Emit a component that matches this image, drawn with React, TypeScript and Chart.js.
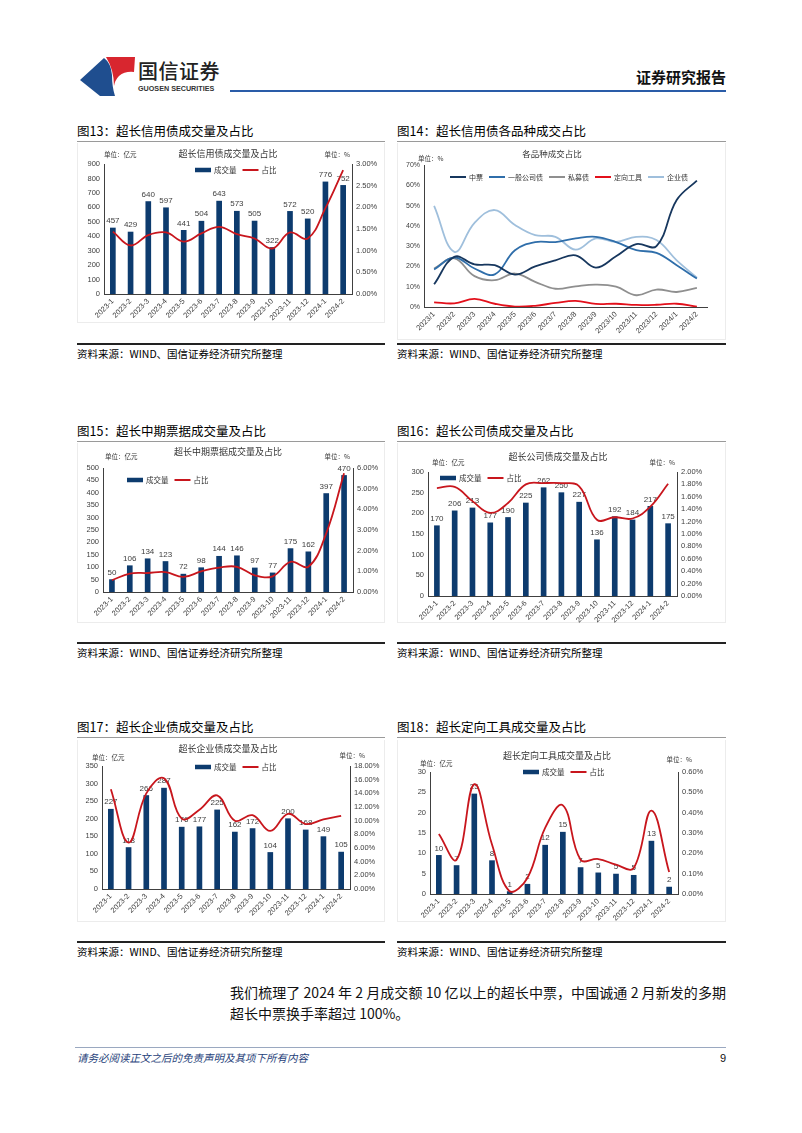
import React, { useEffect, useRef } from "react";
import { Chart, registerables } from "chart.js";

Chart.register(...registerables);

// ---------- data ----------
const monthsDash = ["2023-1", "2023-2", "2023-3", "2023-4", "2023-5", "2023-6", "2023-7", "2023-8", "2023-9", "2023-10", "2023-11", "2023-12", "2024-1", "2024-2"];
const monthsSlash = ["2023/1", "2023/2", "2023/3", "2023/4", "2023/5", "2023/6", "2023/7", "2023/8", "2023/9", "2023/10", "2023/11", "2023/12", "2024/1", "2024/2"];

// 图13 超长信用债
const creditVolume = [457, 429, 640, 597, 441, 504, 643, 573, 505, 322, 572, 520, 776, 752];
const creditShare = [1.44, 1.12, 1.36, 1.42, 1.21, 1.4, 1.55, 1.38, 1.28, 1.05, 1.42, 1.28, 1.98, 2.86];

// 图14 各品种成交占比 (%)
const mtnPct = [11.2, 24.7, 21.0, 20.6, 16.0, 20.0, 23.0, 25.5, 19.4, 25.0, 31.0, 30.0, 52.7, 62.3];
const corpPct = [18.5, 24.4, 19.0, 16.1, 28.0, 32.0, 32.0, 33.8, 34.6, 32.0, 28.0, 26.7, 20.6, 14.0];
const ppnPct = [19.0, 24.0, 15.2, 13.2, 16.5, 12.4, 9.0, 10.2, 11.0, 10.0, 5.8, 8.6, 7.4, 9.4];
const directPct = [2.3, 1.8, 4.0, 1.6, 0.2, 0.6, 2.0, 3.0, 1.5, 1.6, 1.0, 1.1, 1.6, 0.2];
const entPct = [49.8, 27.2, 41.5, 47.8, 40.4, 35.4, 34.6, 28.3, 33.8, 32.1, 34.6, 33.0, 23.0, 14.5];

// 图15 超长中期票据
const mtnVolume = [50, 106, 134, 123, 72, 98, 144, 146, 97, 77, 175, 162, 397, 470];
const mtnShare = [0.57, 0.89, 0.92, 0.96, 0.73, 1.0, 1.18, 1.22, 0.81, 0.76, 1.46, 1.22, 2.84, 5.75];

// 图16 超长公司债
const corpVolume = [170, 206, 213, 177, 190, 225, 262, 250, 227, 136, 192, 184, 217, 175];
const corpShare = [1.74, 1.76, 1.53, 1.34, 1.5, 1.8, 1.82, 1.82, 1.77, 1.23, 1.27, 1.25, 1.44, 1.81];

// 图17 超长企业债
const entVolume = [227, 118, 266, 287, 176, 177, 225, 162, 172, 104, 200, 168, 149, 105];
const entShare = [14.6, 6.8, 14.0, 16.2, 10.3, 11.6, 13.7, 10.0, 10.8, 8.5, 11.0, 9.5, 10.2, 10.7];

// 图18 超长定向工具
const directVolume = [9.5, 7.0, 24.6, 8.2, 0.6, 2.4, 12.0, 15.2, 6.5, 5.2, 4.9, 4.6, 13.0, 1.7];
const directShare = [0.295, 0.169, 0.54, 0.243, 0.013, 0.079, 0.325, 0.436, 0.169, 0.172, 0.144, 0.128, 0.41, 0.108];

// ---------- styles ----------
const NAVY = "#0d3b6e";
const RED = "#c8161d";
const AXIS = "#404040";
const TICK = "#404040";
const CJK = "'Noto Sans CJK SC', 'Noto Sans', sans-serif";
const NUM = "'Liberation Sans', Arial, sans-serif";

type Decor = {
  x: number; y: number;
  title: string; titleX: number; titleY: number; titleSize: number;
  unitL: string; unitLX: number; unitLY: number;
  unitR?: string; unitRX?: number; unitRY?: number;
  legendX: number; legendY: number; legendGap: number; legendSize: number;
  barLabels: boolean;
};

function makeDecor(o: Decor) {
  return {
    id: "decor",
    afterDatasetDraw(chart: any, args: any) {
      if (!o.barLabels || args.index !== 0) return;
      const ctx = chart.ctx;
      const meta = chart.getDatasetMeta(0);
      ctx.save();
      ctx.font = `8px ${NUM}`;
      ctx.fillStyle = "#404040";
      ctx.textAlign = "center";
      ctx.textBaseline = "bottom";
      meta.data.forEach((el: any, i: number) => {
        const v = chart.data.datasets[0].data[i] as number;
        ctx.fillText(String(Math.round(v)), el.x, el.y - 3);
      });
      ctx.restore();
    },
    afterDraw(chart: any) {
      const ctx = chart.ctx;
      ctx.save();
      ctx.textBaseline = "middle";
      ctx.fillStyle = "#333";
      ctx.font = `${o.titleSize}px ${CJK}`;
      ctx.textAlign = "center";
      ctx.fillText(o.title, o.titleX - o.x, o.titleY - o.y);
      ctx.font = `6.5px ${CJK}`;
      ctx.textAlign = "left";
      ctx.fillText(o.unitL, o.unitLX - o.x, o.unitLY - o.y);
      if (o.unitR) {
        ctx.textAlign = "right";
        ctx.fillText(o.unitR, (o.unitRX as number) - o.x, (o.unitRY as number) - o.y);
      }
      // legend
      let cx = o.legendX - o.x;
      const cy = o.legendY - o.y;
      ctx.font = `${o.legendSize}px ${CJK}`;
      ctx.textAlign = "left";
      chart.data.datasets.forEach((ds: any) => {
        const isBar = (ds.type || chart.config.type) === "bar";
        if (isBar) {
          ctx.fillStyle = ds.backgroundColor;
          ctx.fillRect(cx, cy - 2.25, 16, 4.5);
        } else {
          ctx.strokeStyle = ds.borderColor;
          ctx.lineWidth = 2;
          ctx.beginPath();
          ctx.moveTo(cx, cy);
          ctx.lineTo(cx + 16, cy);
          ctx.stroke();
        }
        cx += 19;
        ctx.fillStyle = "#333";
        ctx.fillText(ds.label, cx, cy);
        cx += ctx.measureText(ds.label).width + o.legendGap;
      });
      ctx.restore();
    },
  };
}

type Box = { x: number; y: number; w: number; h: number; L: number; R: number; T: number; B: number; rw: number };

function axisCommon() {
  return {
    grid: { display: false, drawTicks: false },
    border: { display: true, color: AXIS, width: 1 },
  };
}

function xAxis(labelsSize: number, xH: number) {
  return {
    ...axisCommon(),
    ticks: { maxRotation: 45, minRotation: 45, autoSkip: false, font: { size: labelsSize, family: NUM }, color: TICK, padding: 3 },
    afterFit: (s: any) => { s.height = xH; },
  };
}

function comboConfig(
  b: Box, labels: string[], bars: number[], share: number[],
  yMax: number, yStep: number, y2Max: number, y2Step: number, decor: Decor
) {
  const padRight = b.x + b.w - b.R - b.rw;
  return {
    type: "bar",
    data: {
      labels,
      datasets: [
        { type: "bar", label: "成交量", data: bars, backgroundColor: NAVY, barThickness: 5, yAxisID: "y", order: 2 },
        { type: "line", label: "占比", data: share, borderColor: RED, backgroundColor: RED, borderWidth: 1.8, pointRadius: 0, tension: 0.4, yAxisID: "y1", order: 1 },
      ],
    },
    options: {
      animation: false,
      responsive: true,
      maintainAspectRatio: false,
      layout: { padding: { top: b.T - b.y, left: 0, right: padRight, bottom: 0 } },
      plugins: { legend: { display: false }, title: { display: false }, tooltip: { enabled: false } },
      scales: {
        x: xAxis(7.5, b.y + b.h - b.B),
        y: {
          ...axisCommon(), position: "left", min: 0, max: yMax,
          ticks: { stepSize: yStep, font: { size: 7.5, family: NUM }, color: TICK, padding: 4 },
          afterFit: (s: any) => { s.width = b.L - b.x; },
        },
        y1: {
          ...axisCommon(), position: "right", min: 0, max: y2Max,
          ticks: { stepSize: y2Step, font: { size: 7.5, family: NUM }, color: TICK, padding: 4, callback: (v: any) => Number(v).toFixed(2) + "%" },
          afterFit: (s: any) => { s.width = b.rw; },
        },
      },
    },
    plugins: [makeDecor(decor)],
  };
}

function ChartBox({ b, make }: { b: Box; make: () => any }) {
  const ref = useRef<HTMLCanvasElement>(null);
  useEffect(() => {
    const chart = new Chart(ref.current as HTMLCanvasElement, make());
    return () => chart.destroy();
  }, []);
  return (
    <>
      <div style={{ position: "absolute", left: b.x, top: b.y, width: b.w - 2, height: b.h - 1, border: "1px solid #ececec", borderTop: "none" }} />
      <div style={{ position: "absolute", left: b.x, top: b.y, width: b.w, height: b.h }}>
        <canvas ref={ref} />
      </div>
    </>
  );
}

// chart boxes (page coordinates)
const B13: Box = { x: 77, y: 143, w: 308, h: 180, L: 104, R: 352, T: 164, B: 294, rw: 30 };
const B14: Box = { x: 397, y: 143, w: 329, h: 197, L: 424, R: 707, T: 165, B: 307, rw: 0 };
const B15: Box = { x: 77, y: 443, w: 308, h: 180, L: 103, R: 353, T: 468, B: 592, rw: 30 };
const B16: Box = { x: 397, y: 443, w: 329, h: 180, L: 428, R: 677, T: 472, B: 596, rw: 30 };
const B17: Box = { x: 77, y: 740, w: 308, h: 182, L: 102, R: 350, T: 766, B: 889, rw: 33 };
const B18: Box = { x: 397, y: 740, w: 329, h: 182, L: 430, R: 678, T: 772, B: 894, rw: 30 };

function make13() {
  return comboConfig(B13, monthsDash, creditVolume, creditShare, 900, 100, 3, 0.5, {
    x: B13.x, y: B13.y, title: "超长信用债成交量及占比", titleX: 228, titleY: 154, titleSize: 9,
    unitL: "单位：亿元", unitLX: 104, unitLY: 155, unitR: "单位：%", unitRX: 350, unitRY: 155,
    legendX: 195, legendY: 170, legendGap: 6, legendSize: 7.5, barLabels: true,
  });
}
function make15() {
  return comboConfig(B15, monthsDash, mtnVolume, mtnShare, 500, 50, 6, 1, {
    x: B15.x, y: B15.y, title: "超长中期票据成交量及占比", titleX: 228, titleY: 452, titleSize: 9,
    unitL: "单位：亿元", unitLX: 105, unitLY: 457, unitR: "单位：%", unitRX: 350, unitRY: 457,
    legendX: 127, legendY: 480, legendGap: 6, legendSize: 7.5, barLabels: true,
  });
}
function make16() {
  return comboConfig(B16, monthsDash, corpVolume, corpShare, 300, 50, 2, 0.2, {
    x: B16.x, y: B16.y, title: "超长公司债成交量及占比", titleX: 558, titleY: 457, titleSize: 9,
    unitL: "单位：亿元", unitLX: 432, unitLY: 463, unitR: "单位：%", unitRX: 675, unitRY: 463,
    legendX: 440, legendY: 478, legendGap: 6, legendSize: 7.5, barLabels: true,
  });
}
function make17() {
  return comboConfig(B17, monthsDash, entVolume, entShare, 350, 50, 18, 2, {
    x: B17.x, y: B17.y, title: "超长企业债成交量及占比", titleX: 228, titleY: 749, titleSize: 9,
    unitL: "单位：亿元", unitLX: 92, unitLY: 758, unitR: "单位：%", unitRX: 365, unitRY: 756,
    legendX: 195, legendY: 767, legendGap: 6, legendSize: 7.5, barLabels: true,
  });
}
function make18() {
  return comboConfig(B18, monthsDash, directVolume, directShare, 30, 5, 0.6, 0.1, {
    x: B18.x, y: B18.y, title: "超长定向工具成交量及占比", titleX: 557, titleY: 756, titleSize: 9,
    unitL: "单位：亿元", unitLX: 420, unitLY: 764, unitR: "单位：%", unitRX: 692, unitRY: 760,
    legendX: 523, legendY: 772, legendGap: 6, legendSize: 7.5, barLabels: true,
  });
}
function make14() {
  const b = B14;
  const line = (label: string, data: number[], color: string) => ({
    type: "line", label, data, borderColor: color, backgroundColor: color, borderWidth: 1.8, pointRadius: 0, tension: 0.4,
  });
  return {
    type: "line",
    data: {
      labels: monthsSlash,
      datasets: [
        line("中票", mtnPct, "#17375e"),
        line("一般公司债", corpPct, "#2f6eaa"),
        line("私募债", ppnPct, "#8f8f8f"),
        line("定向工具", directPct, "#e3101b"),
        line("企业债", entPct, "#9fbfdc"),
      ],
    },
    options: {
      animation: false,
      responsive: true,
      maintainAspectRatio: false,
      layout: { padding: { top: b.T - b.y, left: 0, right: b.x + b.w - b.R, bottom: 0 } },
      plugins: { legend: { display: false }, title: { display: false }, tooltip: { enabled: false } },
      scales: {
        x: { ...xAxis(7.5, b.y + b.h - b.B), offset: true },
        y: {
          ...axisCommon(), position: "left", min: 0, max: 70,
          ticks: { stepSize: 10, font: { size: 7, family: NUM }, color: TICK, padding: 4, callback: (v: any) => v + "%" },
          afterFit: (s: any) => { s.width = b.L - b.x; },
        },
      },
    },
    plugins: [makeDecor({
      x: b.x, y: b.y, title: "各品种成交占比", titleX: 552, titleY: 154, titleSize: 8.5,
      unitL: "单位：%", unitLX: 418, unitLY: 159,
      legendX: 450, legendY: 177, legendGap: 6, legendSize: 7, barLabels: false,
    })],
  };
}

// ---------- page ----------
const abs = (l: number, t: number, extra: any = {}) => ({ position: "absolute" as const, left: l, top: t, ...extra });

function Caption({ x, y, w, text }: { x: number; y: number; w: number; text: string }) {
  return (
    <>
      <div style={abs(x, y - 9, { fontSize: 12.5, lineHeight: "18px", color: "#000", whiteSpace: "nowrap", fontWeight: 400 })}>{text}</div>
      <div style={abs(x, y + 10, { width: w, height: 1, background: "#9a9a9a" })} />
    </>
  );
}

function Source({ x, y, w }: { x: number; y: number; w: number }) {
  return (
    <>
      <div style={abs(x, y, { width: w, height: 1.5, background: "#222" })} />
      <div style={abs(x, y + 3, { fontSize: 10.5, lineHeight: "16px", color: "#000", whiteSpace: "nowrap" })}>资料来源：WIND、国信证券经济研究所整理</div>
    </>
  );
}

export default function App() {
  return (
    <div style={{ position: "absolute", left: 0, top: 0, width: 802, height: 1133, background: "#fff", fontFamily: CJK, overflow: "hidden" }}>
      {/* header */}
      <svg style={abs(78, 55)} width={60} height={45} viewBox="0 0 60 45">
        <path d="M2,25 L26,3 Q33,8 34,20 Q34,32 37,41 L22,41 Z" fill="#1f4e8f" />
        <path d="M28,2 L57,2 L56,17 Q47,16 41,21 Q37,25 36,31 Q36,15 28,2 Z" fill="#d8262f" />
      </svg>
      <div style={abs(138, 59, { fontSize: 20, lineHeight: "24px", color: "#222", fontWeight: 500, letterSpacing: 0.5, whiteSpace: "nowrap" })}>国信证券</div>
      <div style={abs(138, 84, { fontSize: 7.2, lineHeight: "9px", color: "#333", fontFamily: NUM, fontWeight: 700, whiteSpace: "nowrap" })}>GUOSEN SECURITIES</div>
      <div style={abs(560, 67, { width: 166, textAlign: "right", fontSize: 15, lineHeight: "20px", fontWeight: 700, color: "#111", whiteSpace: "nowrap" })}>证券研究报告</div>
      <div style={abs(230, 90, { width: 496, height: 2, background: "#2a5ca8" })} />

      <Caption x={77} y={131} w={308} text="图13：超长信用债成交量及占比" />
      <Caption x={397} y={131} w={329} text="图14：超长信用债各品种成交占比" />
      <ChartBox b={B13} make={make13} />
      <ChartBox b={B14} make={make14} />
      <Source x={77} y={343} w={308} />
      <Source x={397} y={343} w={329} />

      <Caption x={77} y={431} w={308} text="图15：超长中期票据成交量及占比" />
      <Caption x={397} y={431} w={329} text="图16：超长公司债成交量及占比" />
      <ChartBox b={B15} make={make15} />
      <ChartBox b={B16} make={make16} />
      <Source x={77} y={642} w={308} />
      <Source x={397} y={642} w={329} />

      <Caption x={77} y={727} w={308} text="图17：超长企业债成交量及占比" />
      <Caption x={397} y={727} w={329} text="图18：超长定向工具成交量及占比" />
      <ChartBox b={B17} make={make17} />
      <ChartBox b={B18} make={make18} />
      <Source x={77} y={941} w={308} />
      <Source x={397} y={941} w={329} />

      <div style={abs(230, 982, { width: 496, fontSize: 14, lineHeight: "20px", color: "#111", textAlign: "justify", textAlignLast: "justify", whiteSpace: "nowrap" })}>
        我们梳理了 2024 年 2 月成交额 10 亿以上的超长中票，中国诚通 2 月新发的多期
      </div>
      <div style={abs(230, 1003, { fontSize: 14, lineHeight: "20px", color: "#111", whiteSpace: "nowrap" })}>超长中票换手率超过 100%。</div>

      <div style={abs(75, 1047, { width: 651, height: 1, background: "#9aa8c0" })} />
      <div style={abs(77, 1050, { fontSize: 10.5, lineHeight: "16px", color: "#1f3f7a", fontStyle: "italic", whiteSpace: "nowrap" })}>请务必阅读正文之后的免责声明及其项下所有内容</div>
      <div style={abs(700, 1050, { width: 26, textAlign: "right", fontSize: 11, lineHeight: "16px", color: "#111", fontFamily: NUM })}>9</div>
    </div>
  );
}
